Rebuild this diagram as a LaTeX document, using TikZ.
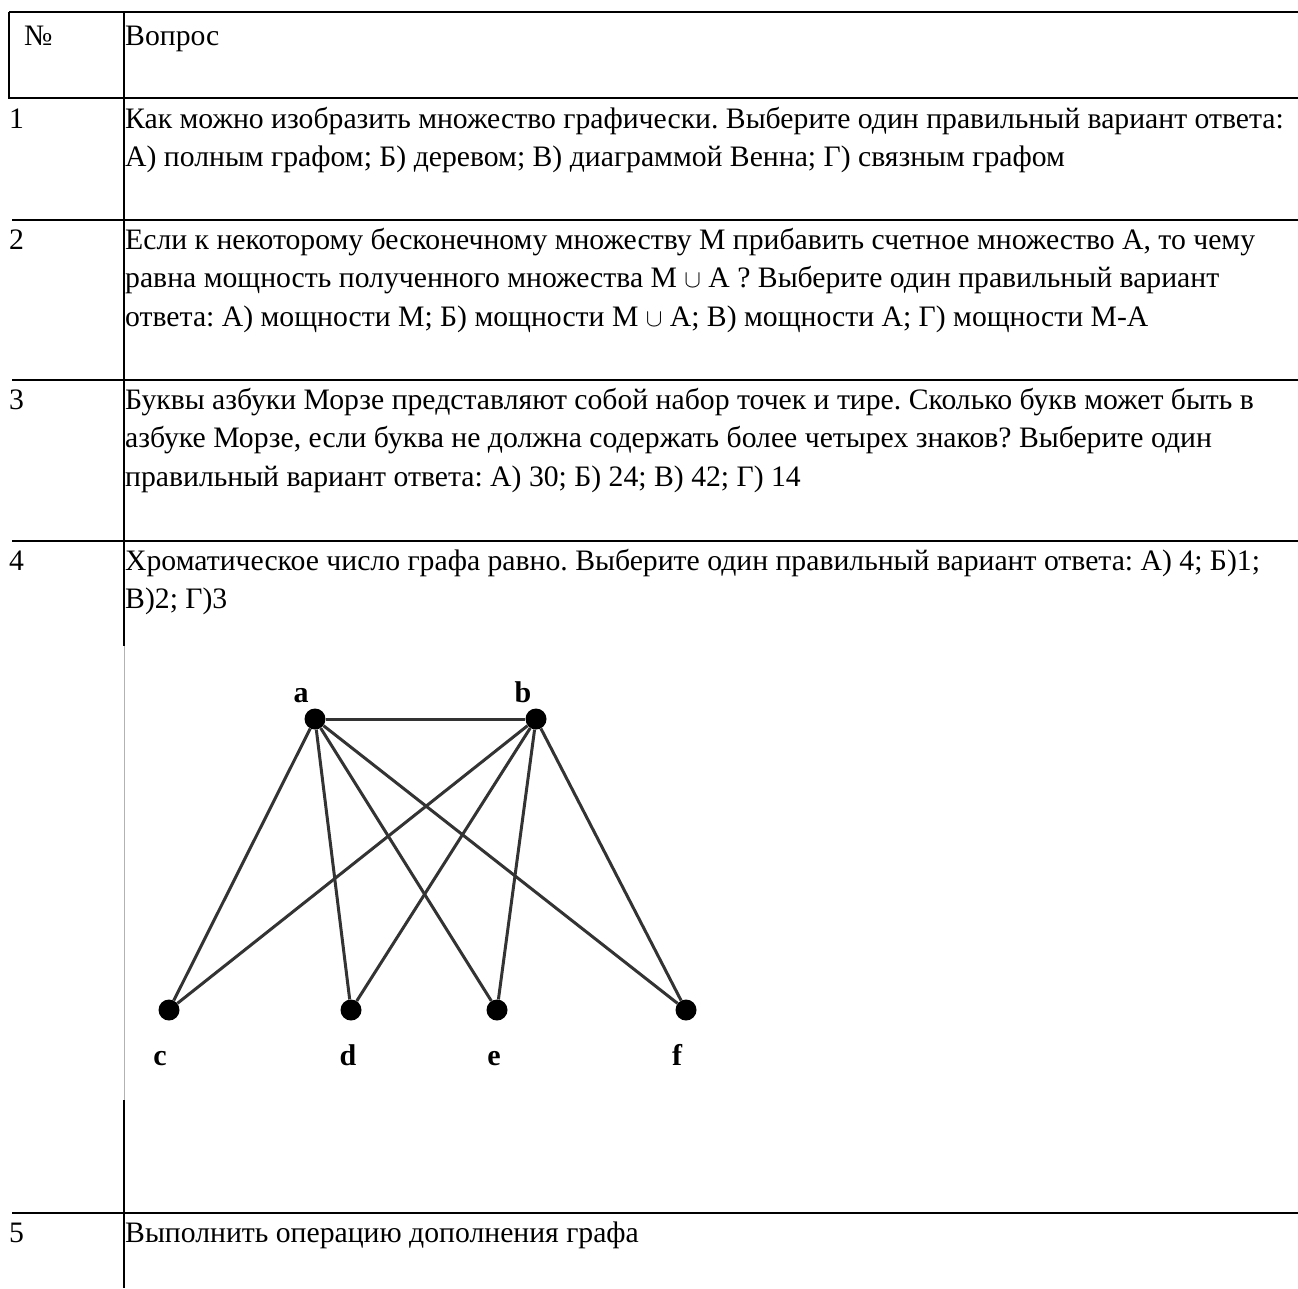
\documentclass[tikz,border=0pt]{standalone}
\usepackage{fontspec}
\setmainfont{Liberation Serif}
\usetikzlibrary{positioning}

\tikzset{
  rule/.style={line width=2.5pt},
  cell/.style={anchor=north west, inner sep=0pt, align=left,
    font=\fontsize{29.7}{38.7}\selectfont\frenchspacing},
  vertex/.style={circle, fill=black, inner sep=0pt, minimum size=21pt},
  edge/.style={line width=3pt, draw=black!80},
  vlabel/.style={anchor=base, inner sep=0pt, font=\fontsize{30}{32}\selectfont\bfseries},
}

\begin{document}
\begin{tikzpicture}[x=1pt,y=-1pt]
  \useasboundingbox (0,0) rectangle (1298,1288);

  % Table rules
  \draw[rule] (9,12) -- (1298,12);
  \draw[rule] (9,12) -- (9,98) -- (1298,98);
  \foreach \y in {220,380,541,1213}
    \draw[rule] (12,\y) -- (1298,\y);
  \draw[rule] (124,12) -- (124,646);
  \draw[rule] (124,1100) -- (124,1288);
  \draw[gray!60, line width=0.8pt] (124,646) -- (124,1100);

  % Header
  \node[cell] (hnum) at (24,17.9) {\strut №};
  \node[cell] (hq) at (125,17.9) {\strut Вопрос};

  % Question numbers
  \node[cell] (n1) at (9,100.9) {\strut 1};
  \node[cell] (n2) at (9,221.9) {\strut 2};
  \node[cell] (n3) at (9,381.9) {\strut 3};
  \node[cell] (n4) at (9,542.9) {\strut 4};
  \node[cell] (n5) at (9,1214.9) {\strut 5};

  % Questions
  \node[cell] (q1) at (125,100.9) {\strut Как можно изобразить множество графически. Выберите один правильный вариант ответа:\\
    А) полным графом; Б) деревом; В) диаграммой Венна; Г) связным графом};
  \node[cell] (q2) at (125,221.9) {\strut Если к некоторому бесконечному множеству М прибавить счетное множество А, то чему\\
    равна мощность полученного множества М \(\cup\) А ? Выберите один правильный вариант\\
    ответа: А) мощности М; Б) мощности М \(\cup\) А; В) мощности А; Г) мощности М-А};
  \node[cell] (q3) at (125,381.9) {\strut Буквы азбуки Морзе представляют собой набор точек и тире. Сколько букв может быть в\\
    азбуке Морзе, если буква не должна содержать более четырех знаков? Выберите один\\
    правильный вариант ответа: А) 30; Б) 24; В) 42; Г) 14};
  \node[cell] (q4) at (125,542.9) {\strut Хроматическое число графа равно. Выберите один правильный вариант ответа: А) 4; Б)1;\\
    В)2; Г)3};
  \node[cell] (q5) at (125,1214.9) {\strut Выполнить операцию дополнения графа};

  % Graph
  \node[vertex] (a) at (315,719) {};
  \node[vertex] (b) at (536,719) {};
  \node[vertex] (c) at (169,1010) {};
  \node[vertex] (d) at (351,1010) {};
  \node[vertex] (e) at (497,1010) {};
  \node[vertex] (f) at (686,1010) {};
  \node[vlabel] (la) at (301,702) {a};
  \node[vlabel] (lb) at (523,702) {b};
  \node[vlabel] (lc) at (160,1065) {c};
  \node[vlabel] (ld) at (348,1065) {d};
  \node[vlabel] (le) at (494,1065) {e};
  \node[vlabel] (lf) at (677,1065) {f};

  \draw[edge] (a) -- (b);
  \foreach \v in {c,d,e,f} {
    \draw[edge] (a) -- (\v);
    \draw[edge] (b) -- (\v);
  }
\end{tikzpicture}
\end{document}
